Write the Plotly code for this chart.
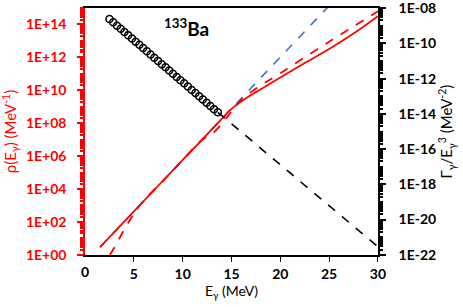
import plotly.graph_objects as go

# ---- data ----
# black open circles: Gamma_gamma / E^3 (right axis)
E_pts = [2.50, 2.88, 3.27, 3.65, 4.03, 4.41, 4.80, 5.18, 5.56, 5.94,
         6.33, 6.71, 7.09, 7.47, 7.86, 8.24, 8.62, 9.00, 9.39, 9.77,
         10.15, 10.53, 10.92, 11.30, 11.68, 12.06, 12.45, 12.83, 13.21, 13.60]
G_pts = [2.40e-9, 1.58e-9, 1.02e-9, 6.8e-10, 4.5e-10, 2.95e-10, 1.91e-10, 1.26e-10, 8.3e-11, 5.5e-11,
         3.55e-11, 2.34e-11, 1.55e-11, 1.02e-11, 6.6e-12, 4.4e-12, 2.88e-12, 1.91e-12, 1.23e-12, 8.1e-13,
         5.4e-13, 3.55e-13, 2.29e-13, 1.51e-13, 1.0e-13, 6.6e-14, 4.3e-14, 2.82e-14, 1.86e-14, 1.23e-14]

# black dashed extrapolation (right axis)
E_gext = [13.6, 30.0]
G_gext = [1.23e-14, 2.9e-22]

# red solid: level density
E_rho = [1.53, 5.0, 10.0, 12.0, 13.0, 14.3, 14.8, 15.3, 16.0, 16.84, 18.0, 20.0, 22.5, 25.0, 27.5, 30.0]
rho = [2.95, 4.4e2, 5.8e5, 1.0e7, 4.4e7, 2.8e8, 5.75e8, 1.05e9, 2.1e9, 4.5e9,
       1.17e10, 6.0e10, 4.5e11, 3.2e12, 2.8e13, 3.2e14]

# red dashed: alternative level density
E_rho2 = [2.55, 3.0, 4.0, 5.0, 5.6, 6.3, 8.0, 10.0, 12.0, 13.0, 14.0, 14.5, 15.0, 15.8, 17.0, 20.0, 25.0, 30.0]
rho2 = [1.0, 2.8, 33, 3.2e2, 1.0e3, 2.95e3, 3.2e4, 5.8e5, 1.0e7, 2.2e7, 9.0e7, 2.2e8, 5.0e8, 2.0e9,
        7.9e9, 1.1e11, 8.9e12, 6.3e14]

# blue dashed: constant-temperature extrapolation
E_ct = [1.53, 25.5]
rho_ct = [2.95, 2.8e15]

left_vals = [1e0, 1e2, 1e4, 1e6, 1e8, 1e10, 1e12, 1e14]
left_text = ["1E+00", "1E+02", "1E+04", "1E+06", "1E+08", "1E+10", "1E+12", "1E+14"]
right_vals = [1e-22, 1e-20, 1e-18, 1e-16, 1e-14, 1e-12, 1e-10, 1e-8]
right_text = ["1E-22", "1E-20", "1E-18", "1E-16", "1E-14", "1E-12", "1E-10", "1E-08"]
x_vals = [0, 5, 10, 15, 20, 25, 30]
x_text = ["0", "5", "10", "15", "20", "25", "30"]

RED = "#ff0000"
BLUE = "#4472c4"
FONT = "Lato"

fig = go.Figure()
fig.add_trace(go.Scatter(x=E_ct, y=rho_ct, mode="lines",
                         line=dict(color=BLUE, width=1.6, dash="dash"), yaxis="y"))
fig.add_trace(go.Scatter(x=E_rho2, y=rho2, mode="lines", line_shape="spline",
                         line=dict(color=RED, width=1.8, dash="dash"), yaxis="y"))
fig.add_trace(go.Scatter(x=E_rho, y=rho, mode="lines", line_shape="spline",
                         line=dict(color=RED, width=1.8), yaxis="y"))
fig.add_trace(go.Scatter(x=E_gext, y=G_gext, mode="lines",
                         line=dict(color="black", width=1.6, dash="dash"), yaxis="y2"))
fig.add_trace(go.Scatter(x=E_pts, y=G_pts, mode="markers",
                         marker=dict(symbol="circle-open", size=7, color="black",
                                     line=dict(width=1.5, color="black")), yaxis="y2"))

fig.update_layout(
    width=463, height=307,
    margin=dict(l=85, r=85, t=8, b=52, autoexpand=False),
    paper_bgcolor="white", plot_bgcolor="white",
    showlegend=False,
    font=dict(family=FONT, color="black"),
    xaxis=dict(range=[-0.01, 30.01], tickmode="array", tickvals=x_vals[1:], ticktext=x_text[1:],
               automargin=False,
               showgrid=False, zeroline=False,
               showline=True, linecolor="black", linewidth=1.5, mirror=True,
               ticks="outside", ticklen=5, tickcolor="black",
               tickfont=dict(size=14, weight="bold", color="black"),
               title=dict(text="E<sub>γ</sub> (MeV)", font=dict(size=14, color="black"), standoff=6)),
    yaxis=dict(type="log", range=[-0.01, 15.0], tickmode="array", tickvals=left_vals, ticktext=left_text,
               automargin=False, ticklabeloverflow="allow",
               showgrid=False, zeroline=False, showline=True, linecolor=RED, linewidth=1.5,
               ticks="outside", ticklen=6, tickcolor=RED, tickwidth=1.5, ticklabelstandoff=8,
               minor=dict(ticks="outside", ticklen=3, tickcolor=RED, dtick="D1", showgrid=False),
               tickfont=dict(size=14, weight="bold", color=RED),
               title=dict(text="ρ(E<sub>γ</sub>) (MeV<sup>-1</sup>)", font=dict(size=15, color=RED), standoff=6)),
    yaxis2=dict(type="log", range=[-22.01, -7.99], overlaying="y", side="right",
                tickmode="array", tickvals=right_vals, ticktext=right_text,
                automargin=False, ticklabeloverflow="allow",
                showgrid=False, zeroline=False, showline=True, linecolor="black", linewidth=1.5,
                ticks="outside", ticklen=6, tickcolor="black", tickwidth=1.5, ticklabelstandoff=10,
                minor=dict(ticks="outside", ticklen=3, tickcolor="black", dtick="D1", showgrid=False),
                tickfont=dict(size=14, weight="bold", color="black"),
                title=dict(text="Γ<sub>γ</sub>/E<sub>γ</sub><sup>3</sup> (MeV<sup>-2</sup>)",
                           font=dict(size=15, color="black"), standoff=6)),
    annotations=[
        dict(x=7.9, y=0.92, xref="x", yref="paper", xanchor="left", yanchor="middle",
             text="<b><sup>133</sup>Ba</b>", showarrow=False,
             font=dict(size=19, color="black", family=FONT)),
        dict(x=x_vals[0], y=0, xref="x", yref="paper", xanchor="center", yanchor="top",
             yshift=-6, text=x_text[0], showarrow=False,
             font=dict(size=14, color="black", family=FONT, weight="bold")),
    ],
)

fig.write_html("out.html", config={"displayModeBar": False},
               post_script="document.body.style.margin='0';document.body.style.overflow='hidden';")
